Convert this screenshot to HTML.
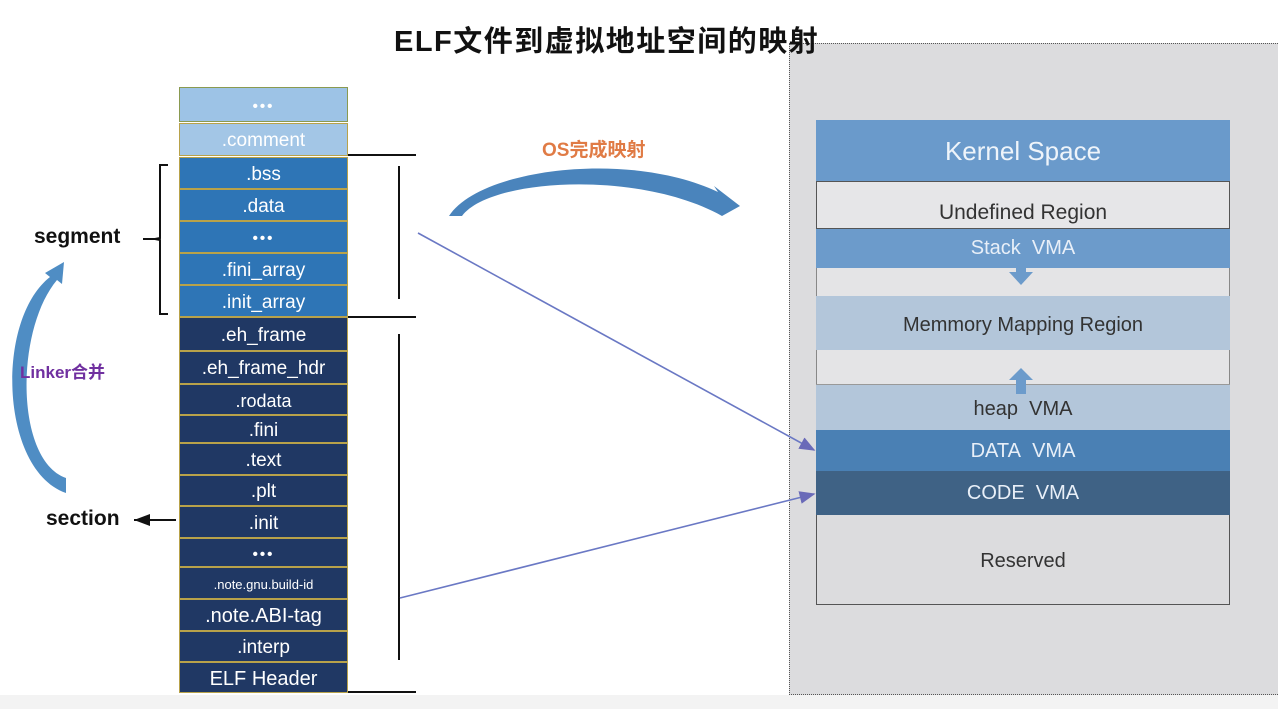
<!DOCTYPE html>
<html><head><meta charset="utf-8"><style>
*{margin:0;padding:0;box-sizing:border-box}
body{width:1278px;height:709px;background:#fff;position:relative;overflow:hidden;font-family:"Liberation Sans","Noto Sans CJK SC",sans-serif}
.a{position:absolute}
.r{position:absolute;left:179px;width:169px;color:#fff;text-align:center;font-size:19px;border:1px solid #b8a24a;display:flex;align-items:center;justify-content:center;padding-top:3px}
.m{background:#2e75b6}.d{background:#203864}.l{background:#9dc3e6}
.dots{font-weight:bold;font-size:15px;letter-spacing:2px}
.v{position:absolute;left:816px;width:414px;display:flex;align-items:center;justify-content:center;font-size:21px}
</style></head><body>
<div class="a" style="left:0;top:695px;width:1278px;height:14px;background:#f3f3f3"></div>
<div class="a" style="left:789px;top:43px;width:495px;height:652px;background:#dcdcde;border-left:1px dotted #555;border-top:1px dotted #555;border-bottom:1px dotted #555"></div>
<div class="a" style="left:394px;top:18px;font-size:29px;letter-spacing:1.5px;font-weight:bold;color:#111;white-space:nowrap">ELF文件到虚拟地址空间的映射</div>
<div class="a" style="left:542px;top:135px;font-size:19px;font-weight:bold;color:#e07b45">OS完成映射</div>
<div class="a" style="left:34px;top:225px;font-size:21px;font-weight:bold;color:#111">segment</div>
<div class="a" style="left:46px;top:507px;font-size:21px;font-weight:bold;color:#111">section</div>

<div class="r l dots" style="top:87px;height:35px;border-color:#8a9a50">•••</div>
<div class="r l" style="top:123px;height:33px;background:#a3c6e6;color:#fff">.comment</div>
<div class="r m" style="top:157px;height:32px">.bss</div>
<div class="r m" style="top:189px;height:32px">.data</div>
<div class="r m dots" style="top:221px;height:32px">•••</div>
<div class="r m" style="top:253px;height:32px">.fini_array</div>
<div class="r m" style="top:285px;height:32px">.init_array</div>
<div class="r d" style="top:317px;height:34px">.eh_frame</div>
<div class="r d" style="top:351px;height:33px">.eh_frame_hdr</div>
<div class="r d" style="top:384px;height:31px;font-size:18px">.rodata</div>
<div class="r d" style="top:415px;height:28px">.fini</div>
<div class="r d" style="top:443px;height:32px">.text</div>
<div class="r d" style="top:475px;height:31px">.plt</div>
<div class="r d" style="top:506px;height:32px">.init</div>
<div class="r d dots" style="top:538px;height:29px">•••</div>
<div class="r d" style="top:567px;height:32px;font-size:13px">.note.gnu.build-id</div>
<div class="r d" style="top:599px;height:32px;font-size:20px">.note.ABI-tag</div>
<div class="r d" style="top:631px;height:31px">.interp</div>
<div class="r d" style="top:662px;height:31px;font-size:20px">ELF Header</div>

<div class="v" style="top:120px;height:61px;background:#6a9acb;color:#eef4fa;font-size:26px;padding-top:2px">Kernel Space</div>
<div class="v" style="top:181px;height:48px;background:#e6e6e8;border:1px solid #555;color:#333;padding-top:16px">Undefined Region</div>
<div class="v" style="top:229px;height:39px;background:#6c9bcb;color:#e8eff8;font-size:20px">Stack&nbsp; VMA</div>
<div class="v" style="top:268px;height:28px;background:#e4e4e6;border-left:1px solid #888;border-right:1px solid #888"></div>
<div class="v" style="top:296px;height:54px;background:#b3c6da;color:#333;font-size:20px;padding-top:4px">Memmory Mapping Region</div>
<div class="v" style="top:350px;height:34px;background:#e4e4e6;border-left:1px solid #888;border-right:1px solid #888"></div>
<div class="v" style="top:384px;height:46px;background:#b3c6da;color:#333;font-size:20px;border-top:1px solid #999;padding-top:4px">heap&nbsp; VMA</div>
<div class="v" style="top:430px;height:41px;background:#4a80b4;color:#e8eff8;font-size:20px;padding-top:2px">DATA&nbsp; VMA</div>
<div class="v" style="top:471px;height:44px;background:#3f6285;color:#e8eff8;font-size:20px">CODE&nbsp; VMA</div>
<div class="v" style="top:515px;height:90px;background:#dcdcde;border:1px solid #555;border-top:none;color:#333;font-size:20px;padding-top:4px">Reserved</div>

<svg class="a" style="left:0;top:0" width="1278" height="709">
<defs><marker id="ar" markerWidth="10" markerHeight="8" refX="9" refY="4" orient="auto"><path d="M0,0 L10,4 L0,8 z" fill="#6a6ab8"/></marker>
<marker id="bk" markerWidth="8" markerHeight="6" refX="8" refY="3" orient="auto"><path d="M0,0 L8,3 L0,6 z" fill="#111"/></marker></defs>
<g stroke="#111" stroke-width="2" fill="none">
<line x1="348" y1="155" x2="416" y2="155"/>
<line x1="348" y1="317" x2="416" y2="317"/>
<line x1="348" y1="692" x2="416" y2="692"/>
<line x1="399" y1="166" x2="399" y2="299"/>
<line x1="399" y1="334" x2="399" y2="660"/>
<path d="M168,165 H160 V238 L155,239 L160,240 V314 H168"/>
<line x1="143" y1="239" x2="155" y2="239"/>
<line x1="176" y1="520" x2="134" y2="520" marker-end="url(#bk)"/>
</g>
<g stroke="#6a78c4" stroke-width="1.6">
<line x1="418" y1="233" x2="814" y2="450" marker-end="url(#ar)"/>
<line x1="400" y1="598" x2="814" y2="494" marker-end="url(#ar)"/>
</g>
<path d="M449,216 C480,168 630,150 718,192 L714,186 L740,206 L722,216 C640,170 490,178 462,216 Z" fill="#4a84bc"/>
<path d="M66,493 C0,470 -5,320 50,277 L45,273 L64,262 L62,284 L57,280 C15,330 15,460 66,478 Z" fill="#4f8dc4"/>
<rect x="1016" y="260" width="10" height="12" fill="#6c9bcb"/><path d="M1009,272 L1033,272 L1021,285 Z" fill="#6c9bcb"/>
<path d="M1009,380 L1033,380 L1021,368 Z" fill="#6c9bcb"/><rect x="1016" y="380" width="10" height="14" fill="#6c9bcb"/>
</svg>
<div class="a" style="left:20px;top:358px;font-size:17px;font-weight:bold;color:#7030a0">Linker合并</div>
</body></html>
